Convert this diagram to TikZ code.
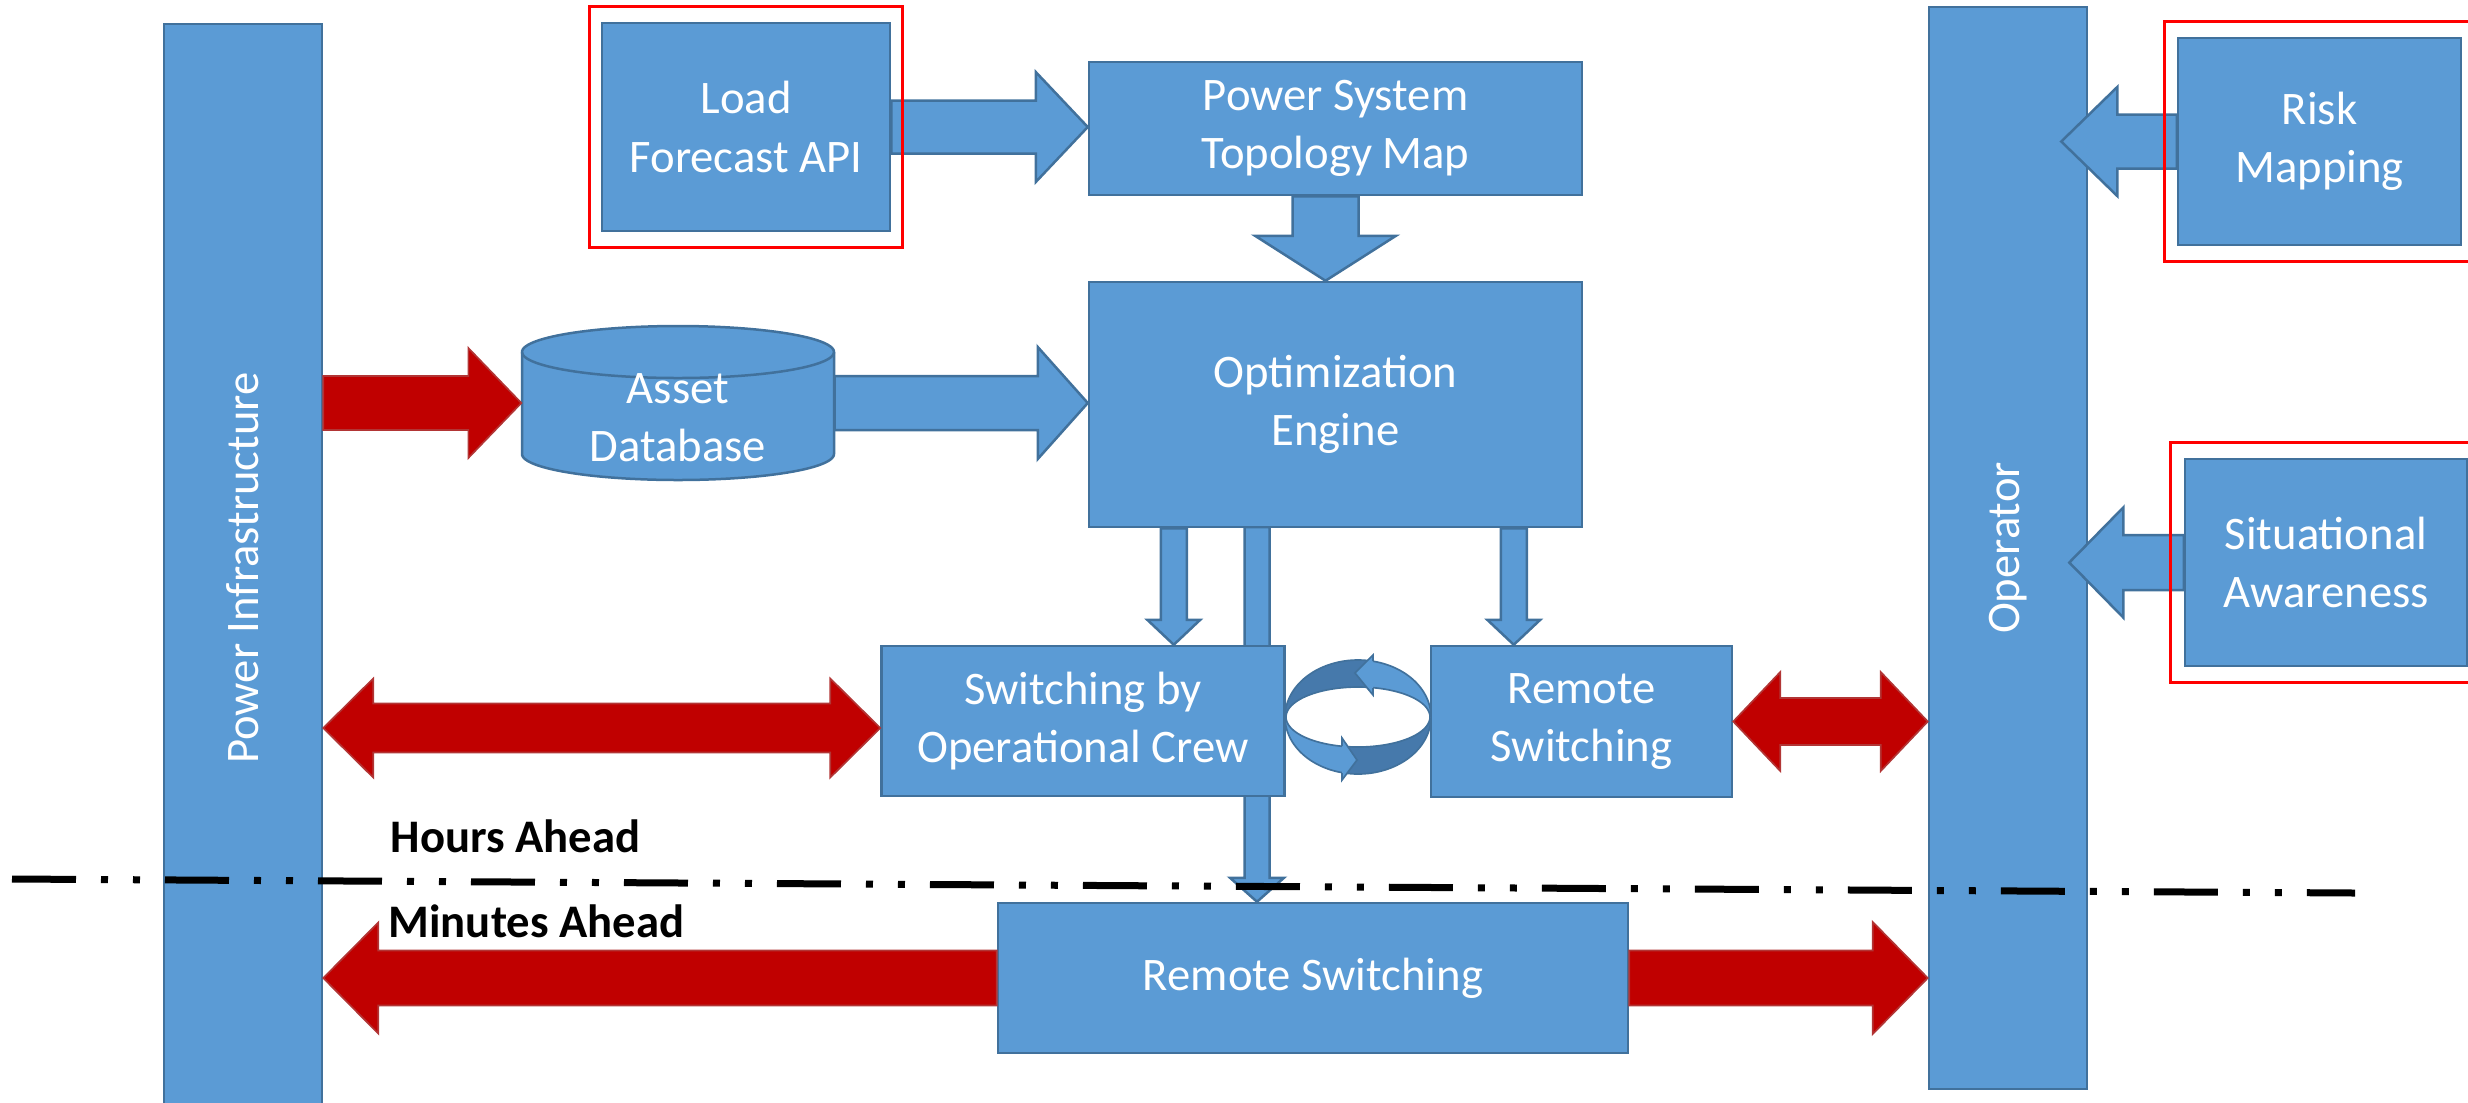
\documentclass[tikz,border=0pt]{standalone}
\usepackage{fontspec}
\setmainfont{Carlito}
\usetikzlibrary{calc,fit}
\definecolor{bluefill}{HTML}{5B9BD5}
\definecolor{bluedraw}{HTML}{41719C}
\definecolor{redfill}{HTML}{C00000}
\definecolor{reddraw}{HTML}{B23535}
\definecolor{cycdark}{HTML}{4679AB}
\definecolor{framered}{HTML}{FF0000}
\newcommand\boxfont{\fontsize{14pt}{17.5pt}\selectfont}
\pgfdeclarelayer{bg}
\pgfsetlayers{bg,main}
% block arrows: style, from, to, shaft half width, head half width, head length
\newcommand\blkR[6]{\path[#1] let \p1=(#2), \p2=(#3) in (\x1,\y1+#4) -- (\x2-#6,\y1+#4) -- (\x2-#6,\y1+#5) -- (\x2,\y1) -- (\x2-#6,\y1-#5) -- (\x2-#6,\y1-#4) -- (\x1,\y1-#4) -- cycle;}
\newcommand\blkL[6]{\path[#1] let \p1=(#2), \p2=(#3) in (\x1,\y1+#4) -- (\x2+#6,\y1+#4) -- (\x2+#6,\y1+#5) -- (\x2,\y1) -- (\x2+#6,\y1-#5) -- (\x2+#6,\y1-#4) -- (\x1,\y1-#4) -- cycle;}
\newcommand\blkD[6]{\path[#1] let \p1=(#2), \p2=(#3) in (\x1+#4,\y1) -- (\x1+#4,\y2+#6) -- (\x1+#5,\y2+#6) -- (\x1,\y2) -- (\x1-#5,\y2+#6) -- (\x1-#4,\y2+#6) -- (\x1-#4,\y1) -- cycle;}
\newcommand\blkLR[6]{\path[#1] let \p1=(#2), \p2=(#3) in (\x1,\y1) -- (\x1+#6,\y1+#5) -- (\x1+#6,\y1+#4) -- (\x2-#6,\y1+#4) -- (\x2-#6,\y1+#5) -- (\x2,\y1) -- (\x2-#6,\y1-#5) -- (\x2-#6,\y1-#4) -- (\x1+#6,\y1-#4) -- (\x1+#6,\y1-#5) -- cycle;}
% ring bands of the cycle symbol
\newcommand\cycband[3]{%
 \fill[#1] plot[domain=#2:#3,samples=40] ({1358+73*cos(\x)},{717+57*sin(\x)}) -- plot[domain=#2:#3,samples=40] ({1358+72*cos((#2)+(#3)-\x)},{717+30*sin((#2)+(#3)-\x)}) -- cycle;
 \draw[bluedraw,line width=0.5pt] plot[domain=#2:#3,samples=40] ({1358+73*cos(\x)},{717+57*sin(\x)});
 \draw[bluedraw,line width=0.5pt] plot[domain=#2:#3,samples=40] ({1358+72*cos(\x)},{717+30*sin(\x)});}
\begin{document}
\begin{tikzpicture}[x=0.3pt,y=-0.3pt,
  box/.style={draw=bluedraw, fill=bluefill, line width=0.75pt, text=white, font=\boxfont, align=center, inner sep=0pt},
  boxtext/.style={text=white, font=\boxfont, align=center, inner sep=0pt},
  bluearrow/.style={fill=bluefill, draw=bluedraw, line width=0.75pt},
  redarrow/.style={fill=redfill, draw=reddraw, line width=0.5pt},
  redframe/.style={draw=framered, line width=0.9pt},
  timelabel/.style={font=\boxfont\bfseries, inner sep=0pt, anchor=base west}]
\useasboundingbox (0,0) rectangle (2468,1102);

% long arrow behind the crew box
\coordinate (o2) at (1257,527);
\begin{pgfonlayer}{bg}
\end{pgfonlayer}

% side bars
\node[box, minimum width=47.4pt, minimum height=326.4pt] (pinf) at (243,568) {};
\node[boxtext, rotate=90] (pinflabel) at (pinf.center) {Power Infrastructure};
\node[box, minimum width=47.4pt, minimum height=324.6pt] (oper) at (2008,548) {};
\node[boxtext, rotate=90] (operlabel) at (oper.center) {Operator};

% boxes
\node[box, minimum width=86.4pt, minimum height=62.4pt] (load) at (746,127) {Load\\Forecast API};
\node[box, minimum width=147.9pt, minimum height=39.9pt] (pstm) at (1335.5,128.5) {Power System\\Topology Map};
\node[box, minimum width=147.9pt, minimum height=73.5pt] (opt) at (1335.5,404.5) {Optimization\\Engine};
\node[box, minimum width=120.9pt, minimum height=45pt] (crew) at (1083,721) {Switching by\\Operational Crew};
\node[box, minimum width=90.3pt, minimum height=45.3pt] (rs) at (1581.5,721.5) {Remote\\Switching};
\node[box, minimum width=189pt, minimum height=45pt] (brs) at (1313,978) {Remote Switching};
\node[box, minimum width=84.9pt, minimum height=62.1pt] (risk) at (2319.5,141.5) {Risk\\Mapping};
\node[box, minimum width=84.6pt, minimum height=62.1pt] (sa) at (2326,562.5) {Situational\\Awareness};

% asset database cylinder
\filldraw[fill=bluefill, draw=bluedraw, line width=0.75pt]
  plot[domain=0:180,samples=60] ({678+156*cos(180-\x)},{454+26*sin(180-\x)})
  -- plot[domain=0:180,samples=60] ({678+156*cos(-\x)},{352+26*sin(-\x)}) -- cycle;
\draw[bluedraw, line width=0.75pt] plot[domain=0:180,samples=60] ({678+156*cos(\x)},{352+26*sin(\x)});
\node[inner sep=0pt, minimum width=93.6pt, minimum height=46.2pt] (asset) at (678,403) {};
\node[boxtext] (assetlabel) at (678,418) {Asset\\Database};

% connection points
\coordinate (o1) at ($(opt.south west)+(86,0)$);
\coordinate (o3) at ($(opt.south west)+(426,0)$);
\coordinate (p1) at ($(pstm.south)+(-10,0)$);
\coordinate (p2) at ($(opt.north)+(-10,0)$);
\coordinate (c7) at ($(crew.west)+(0,7)$);
\coordinate (rtip) at ($(risk.west -| oper.east)+(-27,0)$);
\coordinate (stip) at ($(sa.west -| oper.east)+(-19,0)$);

\begin{pgfonlayer}{bg}
\blkD{bluearrow}{o2}{o2 |- brs.north}{3.75pt}{8.1pt}{7.2pt}
\end{pgfonlayer}

% blue arrows
\blkR{bluearrow}{load.east}{load.east -| pstm.west}{7.95pt}{16.5pt}{15.6pt}
\blkR{bluearrow}{asset.east}{asset.east -| opt.west}{8.1pt}{16.8pt}{15pt}
\blkD{bluearrow}{p1}{p2}{9.9pt}{21.15pt}{13.5pt}
\blkD{bluearrow}{o1}{o1 |- crew.north}{3.9pt}{7.95pt}{7.5pt}
\blkD{bluearrow}{o3}{o3 |- rs.north}{3.9pt}{7.95pt}{7.5pt}
\blkL{bluearrow}{risk.west}{rtip}{8.1pt}{16.35pt}{16.8pt}
\blkL{bluearrow}{sa.west}{stip}{8.25pt}{16.5pt}{16.2pt}

% red arrows
\blkR{redarrow}{pinf.east |- asset.west}{asset.west}{8.1pt}{16.5pt}{15.9pt}
\blkLR{redarrow}{pinf.east |- c7}{c7}{7.35pt}{14.85pt}{15pt}
\blkLR{redarrow}{rs.east}{rs.east -| oper.west}{7.05pt}{14.85pt}{14.1pt}
\blkL{redarrow}{brs.west}{brs.west -| pinf.east}{8.25pt}{16.65pt}{16.5pt}
\blkR{redarrow}{brs.east}{brs.east -| oper.west}{8.25pt}{16.8pt}{16.5pt}

% cycle symbol between crew and remote switching
\cycband{cycdark}{-180}{-80}
\cycband{cycdark}{0}{103}
\cycband{bluefill}{-80}{0}
\cycband{bluefill}{100}{180}
\fill[bluefill] (1373,655) -- (1355,673) -- (1373,695) -- cycle;
\draw[bluedraw, line width=0.5pt] (1373,661) -- (1373,655) -- (1355,673) -- (1373,695) -- (1373,688);
\fill[bluefill] (1342,738) -- (1357,760) -- (1342,780) -- cycle;
\draw[bluedraw, line width=0.5pt] (1342,746) -- (1342,738) -- (1357,760) -- (1342,780) -- (1342,773);

% red frames
\node[redframe, fit=(load), inner xsep=3.3pt, inner ysep=4.65pt] (loadframe) {};
\node[redframe, fit=(risk), inner xsep=3.6pt, inner ysep=4.65pt] (riskframe) {};
\node[redframe, fit=(sa), inner xsep=3.9pt, inner ysep=4.5pt] (saframe) {};

% time horizon separator
\coordinate (ls) at (12,879);
\coordinate (le) at (2355,893);
\draw[line width=2.1pt, dash pattern=on 19.2pt off 7.5pt on 2.1pt off 7.5pt on 2.1pt off 7.5pt] (ls) -- (le);
\node[timelabel] (hours) at (390,852) {Hours Ahead};
\node[timelabel] (minutes) at (388,937) {Minutes Ahead};
\end{tikzpicture}
\end{document}
